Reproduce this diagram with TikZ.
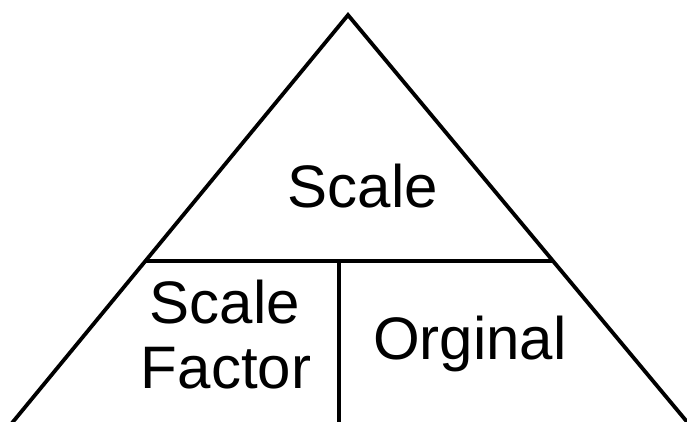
\documentclass[tikz,border=0pt]{standalone}
\usepackage{fontspec}
\setmainfont{Liberation Sans}
\usetikzlibrary{calc}
\tikzset{
  edge/.style={line width=3.8pt, black},
  lbl/.style={anchor=base, inner sep=0pt, font=\fontsize{60}{65}\selectfont}
}
\begin{document}
\begin{tikzpicture}[x=1pt, y=-1pt]
\useasboundingbox (0,0) rectangle (687,421);
\coordinate (apex) at (348,15);
\coordinate (bl) at (12,423);
\coordinate (br) at (688,423);
\coordinate (hl) at ($(apex)!0.6029!(bl)$);
\coordinate (hr) at ($(apex)!0.6029!(br)$);
\coordinate (vt) at (339,261);
\coordinate (vb) at (339,423);
\draw[edge, line join=miter] (bl) -- (apex) -- (br);
\draw[edge] (hl) -- (hr);
\draw[edge] (vt) -- (vb);
\node[lbl] (top) at (363,207) {Scale};
\node[lbl] (sf1) at (225,323) {Scale};
\node[lbl] (sf2) at (226,388) {Factor};
\node[lbl] (orig) at (470,359) {Orginal};
\end{tikzpicture}
\end{document}
